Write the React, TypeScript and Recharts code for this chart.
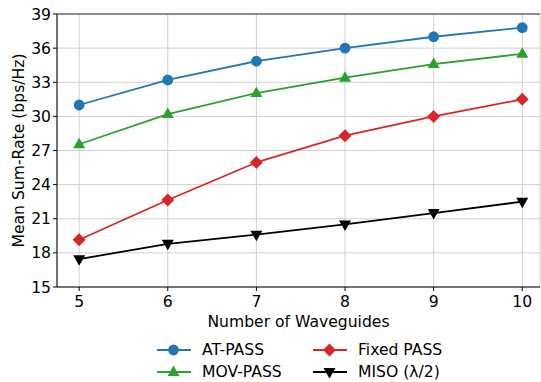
import { CartesianGrid, Legend, Line, LineChart, ReferenceLine, XAxis, YAxis } from 'recharts';

const waveguides = [5, 6, 7, 8, 9, 10];
const atPass = [31.0, 33.2, 34.85, 36.0, 37.0, 37.8];
const movPass = [27.55, 30.2, 32.05, 33.4, 34.6, 35.5];
const fixedPass = [19.15, 22.65, 25.95, 28.3, 30.0, 31.5];
const miso = [17.45, 18.8, 19.6, 20.5, 21.5, 22.5];
const yTicks = [15, 18, 21, 24, 27, 30, 33, 36, 39];

const data = waveguides.map((n, i) => ({
  n,
  at: atPass[i],
  mov: movPass[i],
  fixed: fixedPass[i],
  miso: miso[i],
}));

const FONT = '"DejaVu Sans", sans-serif';
const FS = 15.6;

type Shape = 'circle' | 'triangle' | 'diamond' | 'down';

function marker(shape: Shape, cx: number, cy: number, color: string, key?: string | number) {
  if (shape === 'circle') return <circle key={key} cx={cx} cy={cy} r={5.4} fill={color} />;
  if (shape === 'triangle') {
    const p = `${cx},${cy - 6.5} ${cx - 6},${cy + 4} ${cx + 6},${cy + 4}`;
    return <polygon key={key} points={p} fill={color} />;
  }
  if (shape === 'down') {
    const p = `${cx},${cy + 6.5} ${cx - 6},${cy - 4} ${cx + 6},${cy - 4}`;
    return <polygon key={key} points={p} fill={color} />;
  }
  const p = `${cx},${cy - 6.5} ${cx + 6.5},${cy} ${cx},${cy + 6.5} ${cx - 6.5},${cy}`;
  return <polygon key={key} points={p} fill={color} />;
}

const series = [
  { key: 'at', name: 'AT-PASS', color: '#1f77b4', shape: 'circle' as Shape },
  { key: 'mov', name: 'MOV-PASS', color: '#2ca02c', shape: 'triangle' as Shape },
  { key: 'fixed', name: 'Fixed PASS', color: '#d62728', shape: 'diamond' as Shape },
  { key: 'miso', name: 'MISO (λ/2)', color: '#000000', shape: 'down' as Shape },
];

function LegendBox() {
  const pos = [
    { left: 156, top: 12 },
    { left: 156, top: 34 },
    { left: 312, top: 12 },
    { left: 312, top: 34 },
  ];
  return (
    <div style={{ position: 'relative', width: 541, height: 44 }}>
      {series.map((s, i) => (
        <div key={s.key} style={{ position: 'absolute', left: pos[i].left, top: pos[i].top - 10, height: 20 }}>
          <svg width={36} height={20} style={{ position: 'absolute', left: 0, top: 0 }}>
            <line x1={1} y1={10} x2={35} y2={10} stroke={s.color} strokeWidth={1.8} />
            {marker(s.shape, 17.5, 10, s.color)}
          </svg>
          <span
            style={{
              position: 'absolute',
              left: 46,
              top: 0,
              fontFamily: FONT,
              fontSize: FS,
              color: '#000',
              whiteSpace: 'nowrap',
              lineHeight: '20px',
            }}
          >
            {s.name}
          </span>
        </div>
      ))}
    </div>
  );
}

export default function App() {
  return (
    <div style={{ position: 'absolute', left: 0, top: 0, width: 541, height: 382, background: '#fff' }}>
      <LineChart width={541} height={382} data={data} margin={{ top: 14, right: 1, left: 0, bottom: 0 }}>
        <CartesianGrid stroke="#d0d0d0" strokeWidth={1} />
        <ReferenceLine y={39} stroke="#333" strokeWidth={1} />
        <XAxis
          dataKey="n"
          type="number"
          domain={[4.75, 10.2]}
          ticks={waveguides}
          allowDataOverflow
          height={51}
          tickSize={4}
          tickLine={{ stroke: '#000' }}
          axisLine={{ stroke: '#000' }}
          tick={{ fill: '#000', fontSize: FS, fontFamily: FONT, dy: 3 }}
          label={{
            value: 'Number of Waveguides',
            position: 'insideBottom',
            offset: 11,
            fill: '#000',
            fontSize: FS,
            fontFamily: FONT,
          }}
        />
        <YAxis
          type="number"
          domain={[15, 39]}
          ticks={yTicks}
          width={57}
          tickSize={4}
          tickLine={{ stroke: '#000' }}
          axisLine={{ stroke: '#000' }}
          tick={{ fill: '#000', fontSize: FS, fontFamily: FONT }}
          label={{
            value: 'Mean Sum-Rate (bps/Hz)',
            angle: -90,
            position: 'insideLeft',
            offset: 18,
            style: { textAnchor: 'middle' },
            fill: '#000',
            fontSize: FS,
            fontFamily: FONT,
          }}
        />
        <Legend verticalAlign="bottom" height={44} wrapperStyle={{ left: 0, width: 541 }} content={() => <LegendBox />} />
        {series.map((s) => (
          <Line
            key={s.key}
            dataKey={s.key}
            name={s.name}
            stroke={s.color}
            strokeWidth={1.8}
            isAnimationActive={false}
            dot={(p: any) => marker(s.shape, p.cx, p.cy, s.color, p.index)}
            activeDot={false}
          />
        ))}
      </LineChart>
    </div>
  );
}
